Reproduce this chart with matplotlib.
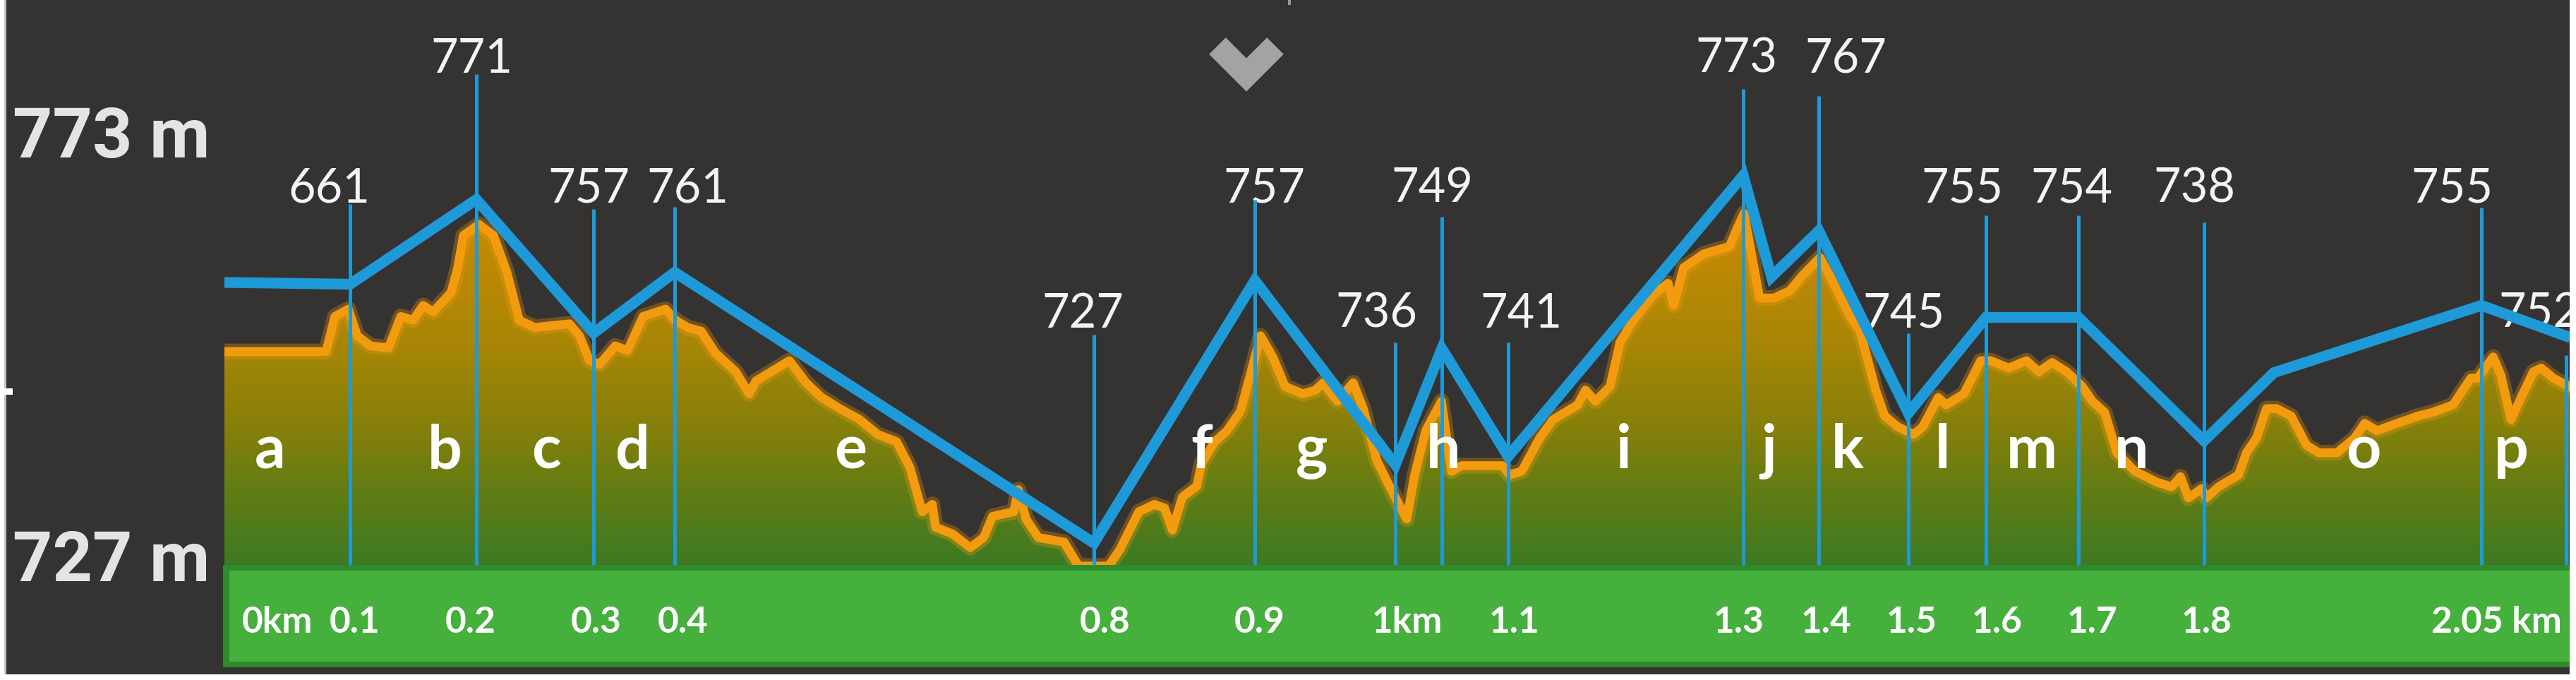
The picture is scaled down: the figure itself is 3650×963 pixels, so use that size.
import numpy as np
import matplotlib
matplotlib.use("Agg")
import matplotlib.pyplot as plt
from matplotlib.colors import LinearSegmentedColormap
from matplotlib.patches import Rectangle, Polygon
from matplotlib.lines import Line2D

# ---------------- data ----------------
# elevation profile: distance along the drawn chart (km) and elevation (m)
profile_km = [0.000, 0.091, 0.099, 0.111, 0.119, 0.131, 0.147, 0.158, 0.169, 0.178,
              0.187, 0.203, 0.209, 0.214, 0.228, 0.241, 0.253, 0.264, 0.278, 0.309,
              0.318, 0.327, 0.336, 0.350, 0.361, 0.375, 0.395, 0.404, 0.415, 0.427,
              0.440, 0.458, 0.470, 0.476, 0.506, 0.521, 0.535, 0.551, 0.569, 0.585,
              0.602, 0.614, 0.625, 0.634, 0.637, 0.652, 0.668, 0.680, 0.688, 0.707,
              0.711, 0.718, 0.729, 0.752, 0.759, 0.765, 0.792, 0.802, 0.819, 0.833,
              0.842, 0.849, 0.858, 0.871, 0.875, 0.887, 0.898, 0.910, 0.918, 0.928,
              0.939, 0.950, 0.966, 0.977, 0.984, 0.997, 1.011, 1.020, 1.032, 1.045,
              1.059, 1.066, 1.076, 1.090, 1.099, 1.108, 1.145, 1.151, 1.162, 1.178,
              1.190, 1.212, 1.219, 1.228, 1.241, 1.250, 1.262, 1.280, 1.293, 1.298,
              1.307, 1.325, 1.348, 1.355, 1.361, 1.375, 1.388, 1.402, 1.413, 1.429,
              1.438, 1.456, 1.465, 1.479, 1.487, 1.499, 1.513, 1.521, 1.535, 1.542,
              1.558, 1.573, 1.582, 1.598, 1.614, 1.625, 1.637, 1.650, 1.664, 1.673,
              1.684, 1.695, 1.711, 1.731, 1.744, 1.752, 1.759, 1.771, 1.775, 1.786,
              1.804, 1.811, 1.820, 1.829, 1.838, 1.851, 1.865, 1.876, 1.892, 1.908,
              1.917, 1.928, 1.946, 1.965, 1.978, 1.996, 2.012, 2.018, 2.032, 2.039,
              2.048, 2.057, 2.068, 2.075, 2.086, 2.100]
profile_m = [749.1, 749.1, 752.9, 753.7, 750.8, 749.7, 749.5, 752.9, 752.5, 754.1,
             753.4, 755.5, 758.2, 761.7, 762.9, 761.7, 757.7, 752.5, 751.7, 752.1,
             750.8, 748.1, 747.7, 749.7, 749.2, 752.9, 753.7, 752.5, 751.7, 751.3,
             748.9, 746.9, 744.5, 745.9, 748.1, 745.7, 744.1, 742.9, 741.7, 740.1,
             739.3, 736.5, 731.7, 732.5, 730.0, 729.3, 727.8, 728.9, 731.2, 731.7,
             734.1, 730.9, 728.9, 728.4, 727.0, 725.8, 725.8, 727.6, 731.7, 732.5,
             732.1, 729.7, 733.3, 734.5, 736.9, 739.3, 740.5, 742.6, 746.2, 750.8,
             748.5, 745.3, 744.5, 744.9, 745.7, 743.7, 745.7, 742.9, 737.3, 734.1,
             730.9, 735.7, 740.5, 743.7, 736.1, 736.7, 736.7, 735.7, 736.1, 739.7,
             741.7, 743.3, 744.9, 743.7, 745.3, 750.1, 752.5, 755.3, 756.5, 754.1,
             758.2, 759.7, 760.5, 762.5, 764.1, 754.9, 754.9, 755.7, 757.3, 759.3,
             757.3, 752.9, 751.3, 744.9, 742.1, 740.9, 740.1, 740.9, 744.1, 743.3,
             744.5, 748.1, 748.1, 747.3, 748.1, 746.9, 747.9, 746.9, 745.3, 743.7,
             742.5, 738.1, 736.1, 734.9, 734.4, 735.5, 733.2, 734.2, 733.2, 734.4,
             735.7, 738.1, 739.7, 742.9, 742.9, 742.1, 738.9, 738.1, 738.1, 739.7,
             741.3, 740.5, 741.3, 742.1, 742.5, 743.3, 746.2, 746.2, 748.5, 746.5,
             741.7, 744.1, 746.9, 747.3, 746.2, 745.3]

# annotated waypoints (vertical markers)
marker_km = [0.1125, 0.2257, 0.3306, 0.4033, 0.7788, 0.9229, 1.0487, 1.0904, 1.1498,
             1.3603, 1.4280, 1.5082, 1.5777, 1.6606, 1.7731, 2.0215, 2.0974]
marker_labels = ['661', '771', '757', '761', '727', '757', '736', '749', '741',
                 '773', '767', '745', '755', '754', '738', '755', '752']
marker_top_m = [765.1, 779.2, 764.6, 764.8, 750.9, 765.6, 750.1, 763.7, 750.1,
                777.6, 776.8, 751.1, 763.9, 763.9, 763.1, 764.7, 748.7]
label_km = [0.0936, 0.2212, 0.3262, 0.4147, 0.7686, 0.9311, 1.0316, 1.0815, 1.1612,
            1.3540, 1.4520, 1.5038, 1.5563, 1.6542, 1.7642, 1.9949, 2.0733]
label_m = [765.3, 779.4, 765.3, 765.3, 751.7, 765.3, 751.7, 765.3, 751.7,
           779.4, 779.4, 751.7, 765.3, 765.3, 765.3, 765.3, 751.7]

# simplified (blue) route line
blue_km = [0.0, 0.1125, 0.2257, 0.3306, 0.4033, 0.7788, 0.9229, 1.0487, 1.0904, 1.1498,
           1.3603, 1.3856, 1.4280, 1.5082, 1.5777, 1.6606, 1.7731, 1.8356, 2.0215, 2.1011]
blue_m = [756.6, 756.4, 765.6, 751.1, 757.7, 728.3, 756.8, 736.8, 749.4, 737.7,
          768.2, 757.2, 762.2, 742.4, 752.8, 752.8, 739.4, 746.8, 754.1, 750.6]

# distance labels in the green bar
km_labels = ['0km', '0.1', '0.2', '0.3', '0.4', '0.8', '0.9', '1km', '1.1',
             '1.3', '1.4', '1.5', '1.6', '1.7', '1.8', '2.05 km']
km_label_pos = [0.0474, 0.1169, 0.2206, 0.3331, 0.4109, 0.7889, 0.9273, 1.0594, 1.1549,
                1.3565, 1.4343, 1.5114, 1.5879, 1.6726, 1.7756, 2.0348]

# segment letters
seg_letters = list('abcdefghijklmnop')
seg_pos = [0.0411, 0.1972, 0.2882, 0.3654, 0.5607, 0.8755, 0.9741, 1.0917,
           1.2535, 1.3831, 1.4539, 1.5386, 1.6188, 1.7080, 1.9159, 2.0480]

# elevation axis labels
ytick_vals = [727, 773]
ytick_labels = ['727 m', '773 m']

# ---------------- style ----------------
W, H = 3650, 963
BLUE = '#1e9ad8'
ORANGE = '#f39b0e'
BG = '#353331'
BASE = 725.93          # top of the green distance bar
XMAX = 2.1005
YMIN, YMAX = 713.43, 787.26

fig = plt.figure(figsize=(W / 100, H / 100), dpi=100, facecolor='white')

# dark app panel with thin light left edge
fig.add_artist(Rectangle((7 / W, 8 / H), (3641 - 7) / W, 1 - 8 / H,
                         transform=fig.transFigure, facecolor=BG, edgecolor='none', zorder=0))
fig.add_artist(Rectangle((6 / W, 8 / H), 3 / W, 1 - 8 / H,
                         transform=fig.transFigure, facecolor='#c4c4c4', edgecolor='none', zorder=0.5))
fig.add_artist(Rectangle((0, 1 - 559 / H), 18 / W, 9 / H,
                         transform=fig.transFigure, facecolor='white', edgecolor='none', zorder=0.6))
fig.add_artist(Rectangle((1825 / W, 1 - 7 / H), 4 / W, 7 / H,
                         transform=fig.transFigure, facecolor='#9a9a9a', edgecolor='none', zorder=0.6))
# chevron
fig.add_artist(Line2D([1725 / W, 1766 / W, 1807 / W], [1 - 65 / H, 1 - 106 / H, 1 - 65 / H],
                      transform=fig.transFigure, color='#a3a3a3', lw=24,
                      solid_joinstyle='miter', solid_capstyle='butt', zorder=0.7))

ax = fig.add_axes([318 / W, 0, (3641 - 318) / W, 1])
ax.set_facecolor('none')
for s in ax.spines.values():
    s.set_visible(False)

# gradient fill under the profile
cmap = LinearSegmentedColormap.from_list('terrain_fill', [
    (0.00, '#3d7a23'),
    ((733 - BASE) / (770 - BASE), '#5e7c15'),
    ((741 - BASE) / (770 - BASE), '#86800a'),
    ((750 - BASE) / (770 - BASE), '#a98606'),
    ((764 - BASE) / (770 - BASE), '#c98a02'),
    (1.00, '#d08c00')])
verts = [(profile_km[0], BASE)] + list(zip(profile_km, profile_m)) + [(profile_km[-1], BASE)]
poly = Polygon(verts, closed=True, facecolor='none', edgecolor='none')
ax.add_patch(poly)
grad = np.linspace(0, 1, 256).reshape(-1, 1)
im = ax.imshow(grad, extent=[0, XMAX, BASE, 770], origin='lower', aspect='auto',
               cmap=cmap, interpolation='bilinear', zorder=1)
im.set_clip_path(poly)

# orange profile line
ax.plot(profile_km, profile_m, color=ORANGE, lw=16, alpha=0.3, solid_joinstyle='round', zorder=1.5)
ax.plot(profile_km, profile_m, color=ORANGE, lw=9, solid_joinstyle='round', zorder=1.6)

# green distance bar
ax.add_patch(Rectangle((-2 / 1582, 714.81), XMAX + 2 / 1582, BASE - 714.81,
                       facecolor='#2d8b2c', edgecolor='none', clip_on=False, zorder=2))
ax.add_patch(Rectangle((7 / 1582, 715.42), XMAX, 725.31 - 715.42,
                       facecolor='#46b03c', edgecolor='none', zorder=2.1))

# waypoint labels
for xk, ym, lab in zip(label_km, label_m, marker_labels):
    ax.text(xk, ym, lab, ha='center', va='baseline', fontsize=48, color='#f4f4f4',
            family=['Lato', 'DejaVu Sans'], zorder=3, clip_on=True)

# vertical marker lines
ax.vlines(marker_km, BASE, marker_top_m, color=BLUE, lw=3.6, zorder=4)

# blue route line
ax.plot(blue_km, blue_m, color=BLUE, lw=11, solid_joinstyle='miter',
        solid_capstyle='butt', zorder=5)

# segment letters
for xk, ch in zip(seg_pos, seg_letters):
    ax.text(xk, 736.4, ch, ha='center', va='baseline', fontsize=62, fontweight='bold',
            color='white', family=['Lato', 'DejaVu Sans'], zorder=6)

# distance labels
for xk, lab in zip(km_label_pos, km_labels):
    ax.text(xk, 718.56, lab, ha='center', va='baseline', fontsize=37, fontweight='bold',
            color='white', family=['Lato', 'DejaVu Sans'], zorder=6, clip_on=True)

ax.set_xlim(0, XMAX)
ax.set_ylim(YMIN, YMAX)
ax.set_xticks([])
ax.set_yticks(ytick_vals)
ax.set_yticklabels(ytick_labels, fontsize=71, fontweight='bold', color='#e4e4e4',
                   family=['Roboto', 'DejaVu Sans'])
ax.tick_params(axis='y', length=0, pad=15)

fig.savefig('out.png', dpi=100, facecolor='white')
